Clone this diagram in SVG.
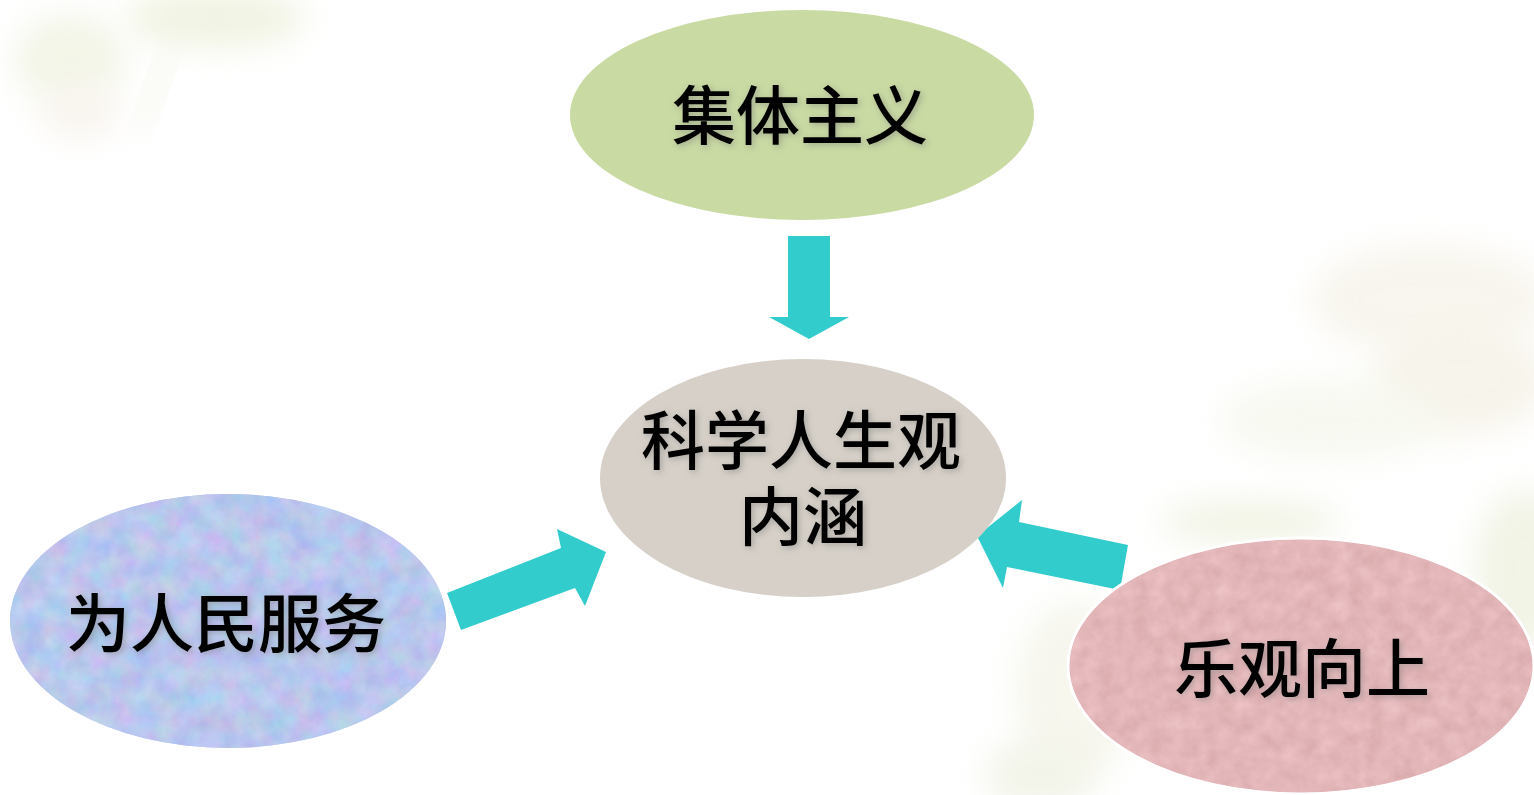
<svg xmlns="http://www.w3.org/2000/svg" width="1534" height="795" viewBox="0 0 1534 795">
  <defs>
    <filter id="soft" x="-50%" y="-50%" width="200%" height="200%">
      <feGaussianBlur stdDeviation="16"/>
    </filter>
    <filter id="txtShadow" x="-20%" y="-40%" width="140%" height="180%" color-interpolation-filters="sRGB">
      <feGaussianBlur in="SourceAlpha" stdDeviation="3" result="b"/>
      <feOffset in="b" dx="2" dy="2" result="o"/>
      <feFlood flood-color="#7a7a7a" flood-opacity="0.5"/>
      <feComposite in2="o" operator="in" result="s"/>
      <feMerge>
        <feMergeNode in="s"/>
        <feMergeNode in="SourceGraphic"/>
      </feMerge>
    </filter>
    <filter id="noiseBlue" x="0" y="0" width="100%" height="100%" color-interpolation-filters="sRGB">
      <feTurbulence type="fractalNoise" baseFrequency="0.045" numOctaves="4" seed="7" result="n"/>
      <feColorMatrix in="n" type="matrix" values="0.22 0 0 0 0.615  0 0.18 0 0 0.69  0 0 0.1 0 0.88  0 0 0 0 1" result="c"/>
      <feComposite in="c" in2="SourceGraphic" operator="in"/>
    </filter>
    <filter id="noisePink" x="0" y="0" width="100%" height="100%" color-interpolation-filters="sRGB">
      <feTurbulence type="fractalNoise" baseFrequency="0.06" numOctaves="4" seed="11" result="n"/>
      <feColorMatrix in="n" type="matrix" values="0.1 0 0 0 0.84  0.12 0 0 0 0.655  0.12 0 0 0 0.665  0 0 0 0 1" result="c"/>
      <feComposite in="c" in2="SourceGraphic" operator="in"/>
    </filter>
    <style>
      .arrow { fill: #33CCCC; }
      .label { font-family: "Noto Sans CJK SC", "Noto Sans CJK TC", sans-serif; font-size: 64px; fill: #000; text-anchor: middle; font-weight: 500; }
      .bg { filter: url(#soft); }
    </style>
  </defs>

  <rect width="1534" height="795" fill="#ffffff"/>

  <!-- faint background watermark -->
  <g id="background" opacity="0.5">
    <ellipse class="bg" cx="70" cy="60" rx="55" ry="45" fill="#E6EBCF"/>
    <ellipse class="bg" cx="215" cy="18" rx="90" ry="30" fill="#E2E8C6"/>
    <ellipse class="bg" cx="80" cy="110" rx="40" ry="30" fill="#F3EBE0"/>
    <rect class="bg" x="150" y="40" width="14" height="90" fill="#E8ECD6" transform="rotate(20 157 85)"/>
    <ellipse class="bg" cx="1430" cy="300" rx="120" ry="55" fill="#F0ECDC"/>
    <ellipse class="bg" cx="1460" cy="380" rx="90" ry="55" fill="#EEE9D6"/>
    <ellipse class="bg" cx="1330" cy="420" rx="110" ry="40" fill="#F0F2E2"/>
    <ellipse class="bg" cx="1250" cy="522" rx="90" ry="22" fill="#E4E9CC"/>
    <ellipse class="bg" cx="1525" cy="570" rx="50" ry="80" fill="#E4E8CC"/>
    <ellipse class="bg" cx="1075" cy="690" rx="60" ry="90" fill="#EEEEDD"/>
    <ellipse class="bg" cx="1040" cy="775" rx="55" ry="35" fill="#E6E8D2"/>
  </g>

  <g id="connectors">
    <polygon class="arrow" points="788,236 830,236 830,317 849,317 809,339 769,317 788,317"/>
    <polygon class="arrow" points="447,593 561,548 557,529 606,552 585,606 575,588 461,630"/>
    <polygon class="arrow" points="1128,545 1019,522 1022,500 977,536 1003,588 1007,567 1120,590"/>
  </g>

  <g id="node-jiti">
    <ellipse cx="802" cy="115" rx="232" ry="105" fill="#C9DAA3"/>
    <text class="label" x="800" y="139" filter="url(#txtShadow)">集体主义</text>
  </g>

  <g id="node-center">
    <ellipse cx="803" cy="478" rx="203" ry="119" fill="#D6D0C8"/>
    <text class="label" filter="url(#txtShadow)"><tspan x="801" y="464">科学人生观</tspan><tspan x="803" y="540">内涵</tspan></text>
  </g>

  <g id="node-renmin">
    <ellipse cx="228" cy="621" rx="218" ry="127" fill="#B9C8EC"/>
    <ellipse cx="228" cy="621" rx="218" ry="127" fill="#B9C8EC" filter="url(#noiseBlue)"/>
    <text class="label" x="226" y="647" filter="url(#txtShadow)">为人民服务</text>
  </g>

  <g id="node-leguan">
    <ellipse cx="1301" cy="666" rx="233" ry="128" fill="#E2B3B7" stroke="#ffffff" stroke-width="3"/>
    <ellipse cx="1301" cy="666" rx="231" ry="126" fill="#E2B3B7" filter="url(#noisePink)"/>
    <text class="label" x="1302" y="692" filter="url(#txtShadow)">乐观向上</text>
  </g>
</svg>
